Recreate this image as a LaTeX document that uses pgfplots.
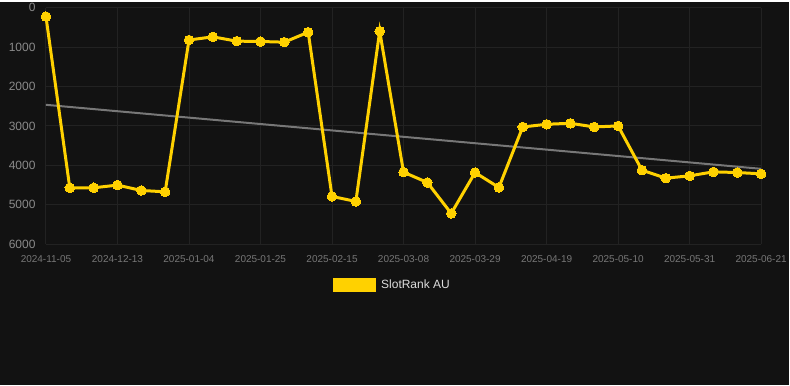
\documentclass[border=0pt]{standalone}
\usepackage{fontspec}
\setmainfont{Liberation Sans}
\usepackage{pgfplots}
\pgfplotsset{compat=1.18}
\definecolor{bg}{HTML}{121212}
\definecolor{gridc}{HTML}{222222}
\definecolor{gold}{HTML}{FFD100}
\definecolor{trend}{HTML}{777777}
\definecolor{ytickc}{HTML}{8A8A8A}
\definecolor{xtickc}{HTML}{777777}
\definecolor{legtext}{HTML}{DDDDDD}
\begin{document}
\begin{tikzpicture}[x=1pt,y=1pt]
\fill[bg] (0,0) rectangle (790,384);
\begin{axis}[
  at={(46pt,141pt)}, anchor=south west,
  scale only axis, width=716pt, height=237pt,
  xmin=0, xmax=30, ymin=0, ymax=6000, y dir=reverse,
  axis line style={draw=none},
  tick style={draw=none},
  grid=major, grid style={gridc, line width=0.9pt},
  xtick={0,3,...,30},
  xticklabels={2024-11-05,2024-12-13,2025-01-04,2025-01-25,2025-02-15,2025-03-08,2025-03-29,2025-04-19,2025-05-10,2025-05-31,2025-06-21},
  ytick={0,1000,...,6000},
  scaled y ticks=false,
  /pgf/number format/1000 sep={},
  /pgf/number format/assume math mode=true,
  y tick label style={font=\fontsize{12}{14}\selectfont, text=ytickc, xshift=-7pt},
  x tick label style={font=\fontsize{10}{12}\selectfont, text=xtickc, yshift=-8pt},
  clip=false,
  legend style={at={(0.4867,-0.173)}, anchor=center, draw=none, fill=none,
    text=legtext, font=\fontsize{12}{14}\selectfont, inner sep=0pt,
    nodes={inner xsep=5pt}},
  legend cell align=left,
]
\addplot[trend, line width=2pt, forget plot] coordinates {(0,2465) (30,4087)};
\addplot[gold, line width=3pt, mark=*, mark size=4.8pt, mark options={fill=gold, draw=gold, line width=0pt},
  legend image code/.code={\fill[gold] (0pt,-5.5pt) rectangle (40pt,5.5pt);}]
  coordinates {
  (0,228) (1,4568) (2,4568) (3,4500) (4,4636) (5,4670)
  (6,822) (7,742) (8,851) (9,860) (10,877) (11,624)
  (12,4787) (13,4914) (14,598) (15,4172) (16,4434) (17,5218)
  (18,4181) (19,4560) (20,3026) (21,2958) (22,2933) (23,3026)
  (24,3000) (25,4121) (26,4324) (27,4265) (28,4164) (29,4181) (30,4214)
  };
\addlegendentry{SlotRank AU}
\end{axis}
\end{tikzpicture}
\end{document}
